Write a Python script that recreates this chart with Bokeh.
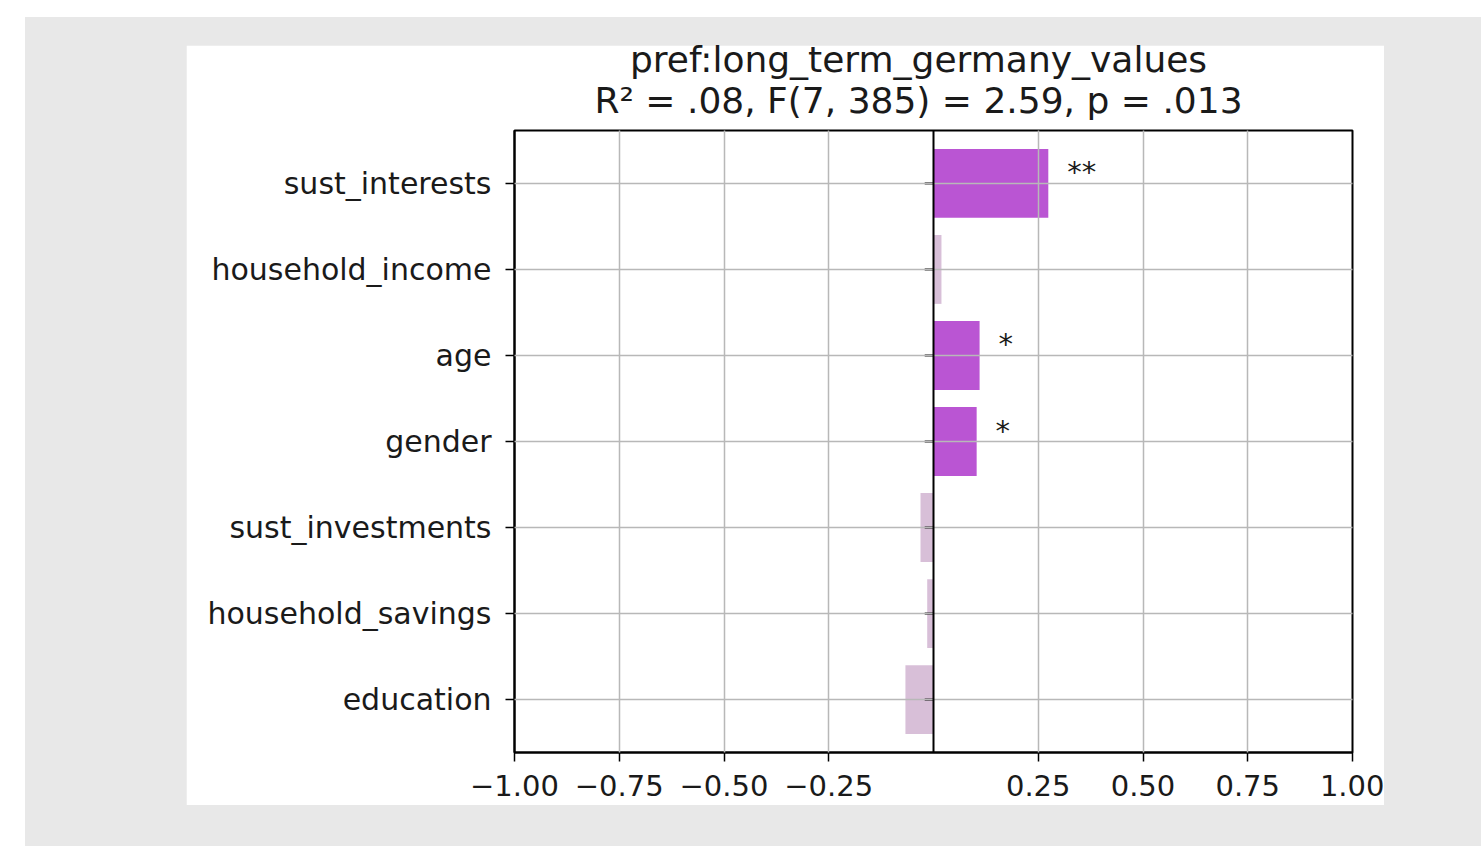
from bokeh.plotting import figure
from bokeh.models import FactorRange, FixedTicker, Span, Label, ColumnDataSource
from bokeh.layouts import column
from bokeh.embed import file_html
from bokeh.resources import INLINE
from bokeh.core.properties import value

# ---------------- data ----------------
title_line1 = "pref:long_term_germany_values"
title_line2 = "R² = .08, F(7, 385) = 2.59, p = .013"
predictors = ["sust_interests", "household_income", "age", "gender",
              "sust_investments", "household_savings", "education"]
coefficients = [0.274, 0.019, 0.110, 0.103, -0.031, -0.015, -0.067]
stars = ["**", "", "*", "*", "", "", ""]
x_ticks = [-1.0, -0.75, -0.5, -0.25, 0.25, 0.5, 0.75, 1.0]
x_tick_labels = ["−1.00", "−0.75", "−0.50", "−0.25", "0.25", "0.50", "0.75", "1.00"]

# ---------------- styles ----------------
FONT = "DejaVu Sans"
SIG = "#BA55D3"
NONSIG = "#D8BFD8"
TXT = "#1a1a1a"
GRID = "#b8b8b8"
STAR_GAP = 0.045
ZERO_TICK = 0.021

colors = [SIG if s else NONSIG for s in stars]
star_x = [c + STAR_GAP if c >= 0 else c - STAR_GAP for c in coefficients]
src = ColumnDataSource(dict(pred=predictors, coef=coefficients, color=colors,
                            star=stars, star_x=star_x,
                            zero=[0.0] * len(predictors),
                            tick_end=[-ZERO_TICK] * len(predictors)))

p = figure(y_range=FactorRange(factors=predictors[::-1], range_padding=0.033),
           x_range=(-1, 1),
           width=1198, height=760,
           min_border_left=328, min_border_right=32,
           min_border_top=85, min_border_bottom=53,
           output_backend="svg", toolbar_location=None,
           background_fill_color="white", border_fill_color="white",
           margin=(28, 0, 0, 161))
p.title.visible = False

p.hbar(y="pred", right="coef", left=0, height=0.8, color="color",
       line_color=None, source=src)

# grid on top of bars
for g in (p.xgrid, p.ygrid):
    g.grid_line_color = GRID
    g.grid_line_width = 1.5
    g.level = "overlay"
p.xgrid.ticker = FixedTicker(ticks=x_ticks)

# zero line and its ticks
p.add_layout(Span(location=0, dimension="height", line_color="black",
                  line_width=2, level="overlay"))
p.segment(x0="zero", y0="pred", x1="tick_end", y1="pred", source=src,
          line_color="black", line_width=2, level="overlay")

# significance stars
p.text(x="star_x", y="pred", text="star", source=src,
       text_font=value(FONT), text_font_size="29px", text_color=TXT,
       text_align="left", text_baseline="middle", y_offset=-11)

# outline / axes
p.outline_line_color = "black"
p.outline_line_width = 2
for ax in (p.xaxis, p.yaxis):
    ax.axis_line_color = "black"
    ax.axis_line_width = 2
    ax.major_tick_line_color = "black"
    ax.major_tick_line_width = 1.5
    ax.major_tick_in = 0
    ax.major_tick_out = 9
    ax.minor_tick_line_color = None
    ax.major_label_text_font = FONT
    ax.major_label_text_color = TXT
p.xaxis.major_label_text_font_size = "29px"
p.yaxis.major_label_text_font_size = "30px"
p.xaxis.ticker = FixedTicker(ticks=x_ticks)
p.xaxis.major_label_overrides = dict(zip(x_ticks, x_tick_labels))
p.xaxis.major_label_standoff = 13
p.yaxis.major_label_standoff = 14

# two-line title, in the panel above the frame
p.add_layout(Label(x=404, y=51, x_units="screen", y_units="screen",
                   text=title_line1 + "\n" + title_line2,
                   text_font=FONT, text_font_size="36px", text_line_height=1.0,
                   text_color=TXT, text_align="center", text_baseline="middle"),
             "above")

gray = column(p, width=1456, height=829, margin=(17, 0, 0, 25),
              styles={"background-color": "#e8e8e8"})
root = column(gray)

open("out.html", "w").write(file_html(root, INLINE))
